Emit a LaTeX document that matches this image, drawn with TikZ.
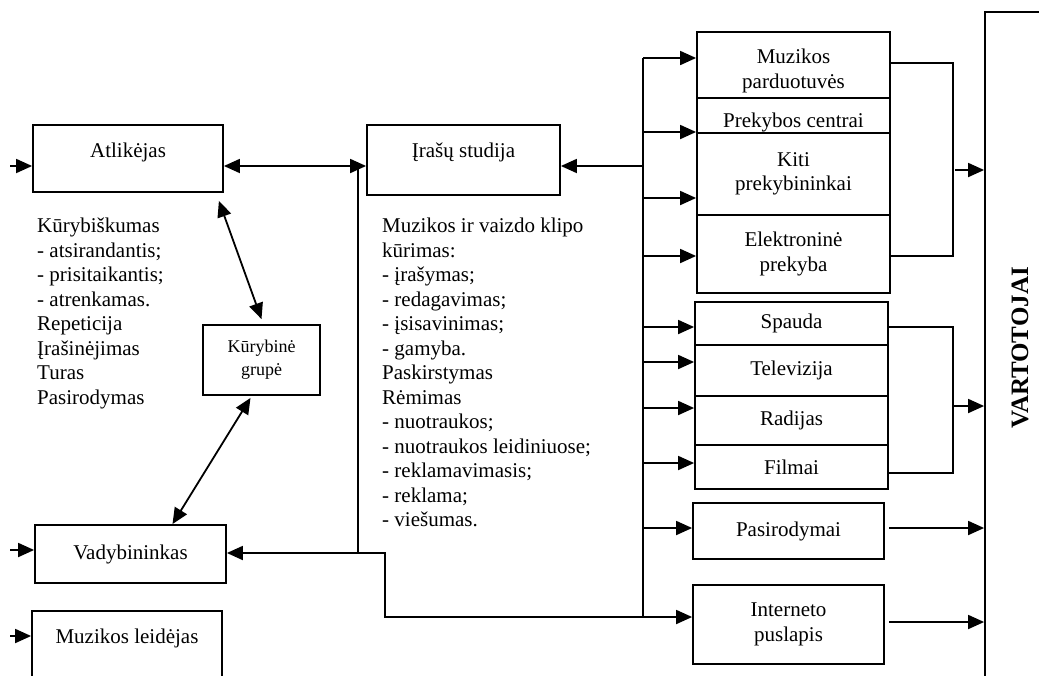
\documentclass[tikz,border=0pt]{standalone}
\usepackage{fontspec}
\setmainfont{Liberation Serif}
\usepackage{graphicx}
\usetikzlibrary{arrows.meta}

\tikzset{
  box/.style={draw, rectangle, line width=1.8pt, inner sep=0pt, align=center},
  arr/.style={-{Triangle[length=16pt,width=14pt]}, line width=1.8pt},
  arrs/.style={{Triangle[length=16pt,width=14pt]}-{Triangle[length=16pt,width=14pt]}, line width=1.8pt},
  wire/.style={line width=1.8pt},
  brace/.style={line width=1.4pt}
}

\begin{document}
\begin{tikzpicture}[x=1pt, y=-1pt, font=\fontsize{21}{24.5}\selectfont]
\useasboundingbox (0,0) rectangle (1039,675);
\clip (0,0) rectangle (1039,675);

% Left column
\node[box, minimum width=190pt, minimum height=67pt, text height=32pt, text depth=35pt] (atl) at (128,158.5) {Atlikėjas};
\node[box, minimum width=191pt, minimum height=58pt] (vad) at (130.5,554) {Vadybininkas};
\node[box, minimum width=190pt, minimum height=72pt, text height=32pt, text depth=40pt] (leid) at (127,647) {Muzikos leidėjas};
\node[box, minimum width=117pt, minimum height=70pt, font=\fontsize{18}{23}\selectfont] (grp) at (261.5,360) {Kūrybinė\\grupė};

\node[anchor=north west, inner sep=0pt, align=left] (kurtxt) at (37,218) {Kūrybiškumas\\- atsirandantis;\\- prisitaikantis;\\- atrenkamas.\\Repeticija\\Įrašinėjimas\\Turas\\Pasirodymas};

% Studio
\node[box, minimum width=193pt, minimum height=70pt, text height=32pt, text depth=38pt] (studio) at (463.5,160) {Įrašų studija};
\node[anchor=north west, inner sep=0pt, align=left] (studtxt) at (382,218) {Muzikos ir vaizdo klipo\\kūrimas:\\- įrašymas;\\- redagavimas;\\- įsisavinimas;\\- gamyba.\\Paskirstymas\\Rėmimas\\- nuotraukos;\\- nuotraukos leidiniuose;\\- reklamavimasis;\\- reklama;\\- viešumas.};

% Sellers
\node[box, minimum width=193pt, minimum height=66pt] (mp) at (793.5,65) {\rule{0pt}{26pt}Muzikos\\parduotuvės};
\node[box, minimum width=193pt, minimum height=35pt, text height=29pt, text depth=6pt] (pc) at (793.5,115.5) {Prekybos centrai};
\node[box, minimum width=193pt, minimum height=82pt] (kp) at (793.5,174) {Kiti\\prekybininkai};
\node[box, minimum width=193pt, minimum height=78pt] (ep) at (793.5,254) {Elektroninė\\prekyba};

% Media
\node[box, minimum width=193pt, minimum height=43pt] (sp) at (791.5,323.5) {Spauda};
\node[box, minimum width=193pt, minimum height=51pt] (tv) at (791.5,370.5) {Televizija};
\node[box, minimum width=193pt, minimum height=49pt] (rad) at (791.5,420.5) {Radijas};
\node[box, minimum width=193pt, minimum height=44pt] (fil) at (791.5,467) {Filmai};

\node[box, minimum width=191pt, minimum height=56pt] (pas) at (788.5,531) {Pasirodymai};
\node[box, minimum width=191pt, minimum height=79pt] (inet) at (788.5,624.5) {Interneto\\puslapis};

% Consumers
\node[box, minimum width=70pt, minimum height=672pt] (vart) at (1020,348) {\rotatebox{90}{\fontsize{25}{30}\selectfont\bfseries VARTOTOJAI}};

% Coordinates
\coordinate (ia) at (10,166);
\coordinate (iv) at (10,550);
\coordinate (il) at (10,636);
\coordinate (j1) at (358,166);
\coordinate (j2) at (358,553);
\coordinate (j3) at (385,553);
\coordinate (bs) at (643,166);
\coordinate (b1) at (643,58);
\coordinate (b2) at (643,132);
\coordinate (b3) at (643,198);
\coordinate (b4) at (643,256);
\coordinate (b5) at (643,327);
\coordinate (b6) at (643,362);
\coordinate (b7) at (643,408);
\coordinate (b8) at (643,463);
\coordinate (b9) at (643,528);
\coordinate (b10) at (643,617);
\coordinate (k1) at (953,63);
\coordinate (k2) at (953,256);
\coordinate (k3) at (955,170);
\coordinate (k4) at (953,327);
\coordinate (k5) at (953,473);
\coordinate (k6) at (953,406);
\coordinate (o1) at (889,528);
\coordinate (o2) at (889,622);

% Inputs on the left
\draw[arr] (ia) -- (ia -| atl.west);
\draw[arr] (iv) -- (iv -| vad.west);
\draw[arr] (il) -- (il -| leid.west);

% Performer, group, manager
\draw[arrs] (j1 -| atl.east) -- (j1 -| studio.west);
\draw[arrs] ([shift={(-5pt,-8pt)}]atl.south east) -- ([yshift=5pt]grp.north);
\draw[arrs] ([shift={(-11pt,-2pt)}]grp.south) -- ([xshift=42pt]vad.north);
\draw[wire] (j1) -- (j2);
\draw[arr] (j2) -- (j2 -| vad.east);
\draw[wire] (j2) -- (j3) |- (b10);

% Distribution bus
\draw[wire] (b1) -- (b10);
\draw[arr] (bs) -- (bs -| studio.east);
\draw[arr] (b1) -- (b1 -| mp.west);
\draw[arr] (b2) -- (b2 -| pc.west);
\draw[arr] (b3) -- (b3 -| kp.west);
\draw[arr] (b4) -- (b4 -| ep.west);
\draw[arr] (b5) -- (b5 -| sp.west);
\draw[arr] (b6) -- (b6 -| tv.west);
\draw[arr] (b7) -- (b7 -| rad.west);
\draw[arr] (b8) -- (b8 -| fil.west);
\draw[arr] (b9) -- (b9 -| pas.west);
\draw[arr] (b10) -- (b10 -| inet.west);

% Brackets to consumers
\draw[brace] (mp.east |- k1) -- (k1) -- (k2) -- (ep.east |- k2);
\draw[arr] (k3) -- (k3 -| vart.west);
\draw[brace] (sp.east |- k4) -- (k4) -- (k5) -- (fil.east |- k5);
\draw[arr] (k6) -- (k6 -| vart.west);
\draw[arr] (o1) -- (o1 -| vart.west);
\draw[arr] (o2) -- (o2 -| vart.west);
\end{tikzpicture}
\end{document}
